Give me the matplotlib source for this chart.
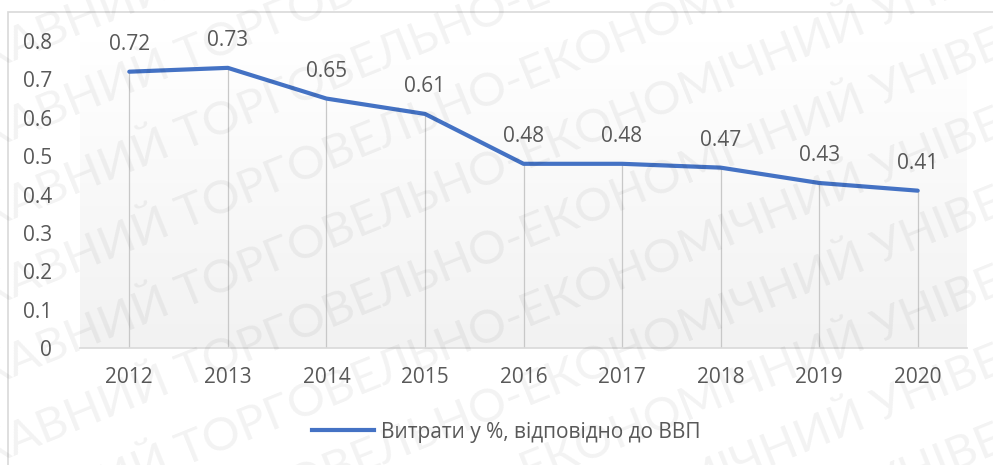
import numpy as np
import matplotlib
matplotlib.use("Agg")
import matplotlib.pyplot as plt
import matplotlib.patches as patches
from matplotlib.lines import Line2D

years = ['2012', '2013', '2014', '2015', '2016', '2017', '2018', '2019', '2020']
values = [0.72, 0.73, 0.65, 0.61, 0.48, 0.48, 0.47, 0.43, 0.41]
y_ticks = [0, 0.1, 0.2, 0.3, 0.4, 0.5, 0.6, 0.7, 0.8]
series_name = 'Витрати у %, відповідно до ВВП'
watermark = 'ДТЕУ ДЕРЖАВНИЙ ТОРГОВЕЛЬНО-ЕКОНОМІЧНИЙ УНІВЕРСИТЕТ '

plt.rcParams['font.family'] = ['Open Sans', 'DejaVu Sans']
txt_color = '#595959'
line_color = '#4472C4'
fs = 15

fig = plt.figure(figsize=(9.93, 4.65), dpi=100)
fig.patch.set_facecolor('white')

# рамка диаграммы
fig.add_artist(patches.Rectangle((8 / 993, -0.1), 1.2, 1 - 12 / 465 + 0.1,
                                 transform=fig.transFigure, fill=False,
                                 edgecolor='#d9d9d9', linewidth=1.2))

ax = fig.add_axes([80 / 993, 1 - 348 / 465, 887 / 993, 307 / 465])
ax.set_facecolor('none')
x = np.arange(len(years))

# мягкий серый градиент области построения
grad = np.linspace(1.0, 0.0, 256).reshape(-1, 1)
ax.imshow(grad, cmap=matplotlib.colors.LinearSegmentedColormap.from_list(
    'g', ['#f2f2f2', '#ffffff']), aspect='auto',
    extent=(-0.5, len(years) - 0.5, 0, 0.8), zorder=0, vmin=0, vmax=1)

# линии проекции
ax.vlines(x, 0, values, color='#c8c8c8', linewidth=0.9, zorder=1)
ax.plot(x, values, color=line_color, linewidth=3, solid_joinstyle='round',
        solid_capstyle='round', zorder=3)

for xi, v in zip(x, values):
    ax.annotate(f'{v:.2f}', (xi, v), xytext=(0, 12), textcoords='offset points',
                ha='center', va='bottom', fontsize=fs, color=txt_color)

ax.set_xlim(-0.5, len(years) - 0.5)
ax.set_ylim(0, 0.8)
ax.set_xticks(x)
ax.set_xticklabels(years)
ax.set_yticks(y_ticks)
ax.set_yticklabels([f'{t:g}' for t in y_ticks])
ax.tick_params(axis='both', length=0, labelsize=fs, colors=txt_color)
ax.tick_params(axis='x', pad=14)
ax.tick_params(axis='y', pad=20)
for s in ['top', 'right', 'left']:
    ax.spines[s].set_visible(False)
ax.spines['bottom'].set_color('#d9d9d9')
ax.spines['bottom'].set_linewidth(1.2)

handle = Line2D([0], [0], color=line_color, linewidth=3)
fig.legend([handle], [series_name], loc='center', bbox_to_anchor=(506 / 993, 1 - 432 / 465),
           frameon=False, fontsize=fs, labelcolor=txt_color, handlelength=3.0,
           handletextpad=0.3)

# водяной знак
for i in range(-6, 8):
    fig.text(-0.25, 0.0 + i * 0.17, watermark * 4, rotation=22, rotation_mode='anchor',
             fontsize=34, color='#000000', alpha=0.05, ha='left', va='center',
             family=['Lato', 'DejaVu Sans'], zorder=10)

fig.savefig('out.png', dpi=100)
